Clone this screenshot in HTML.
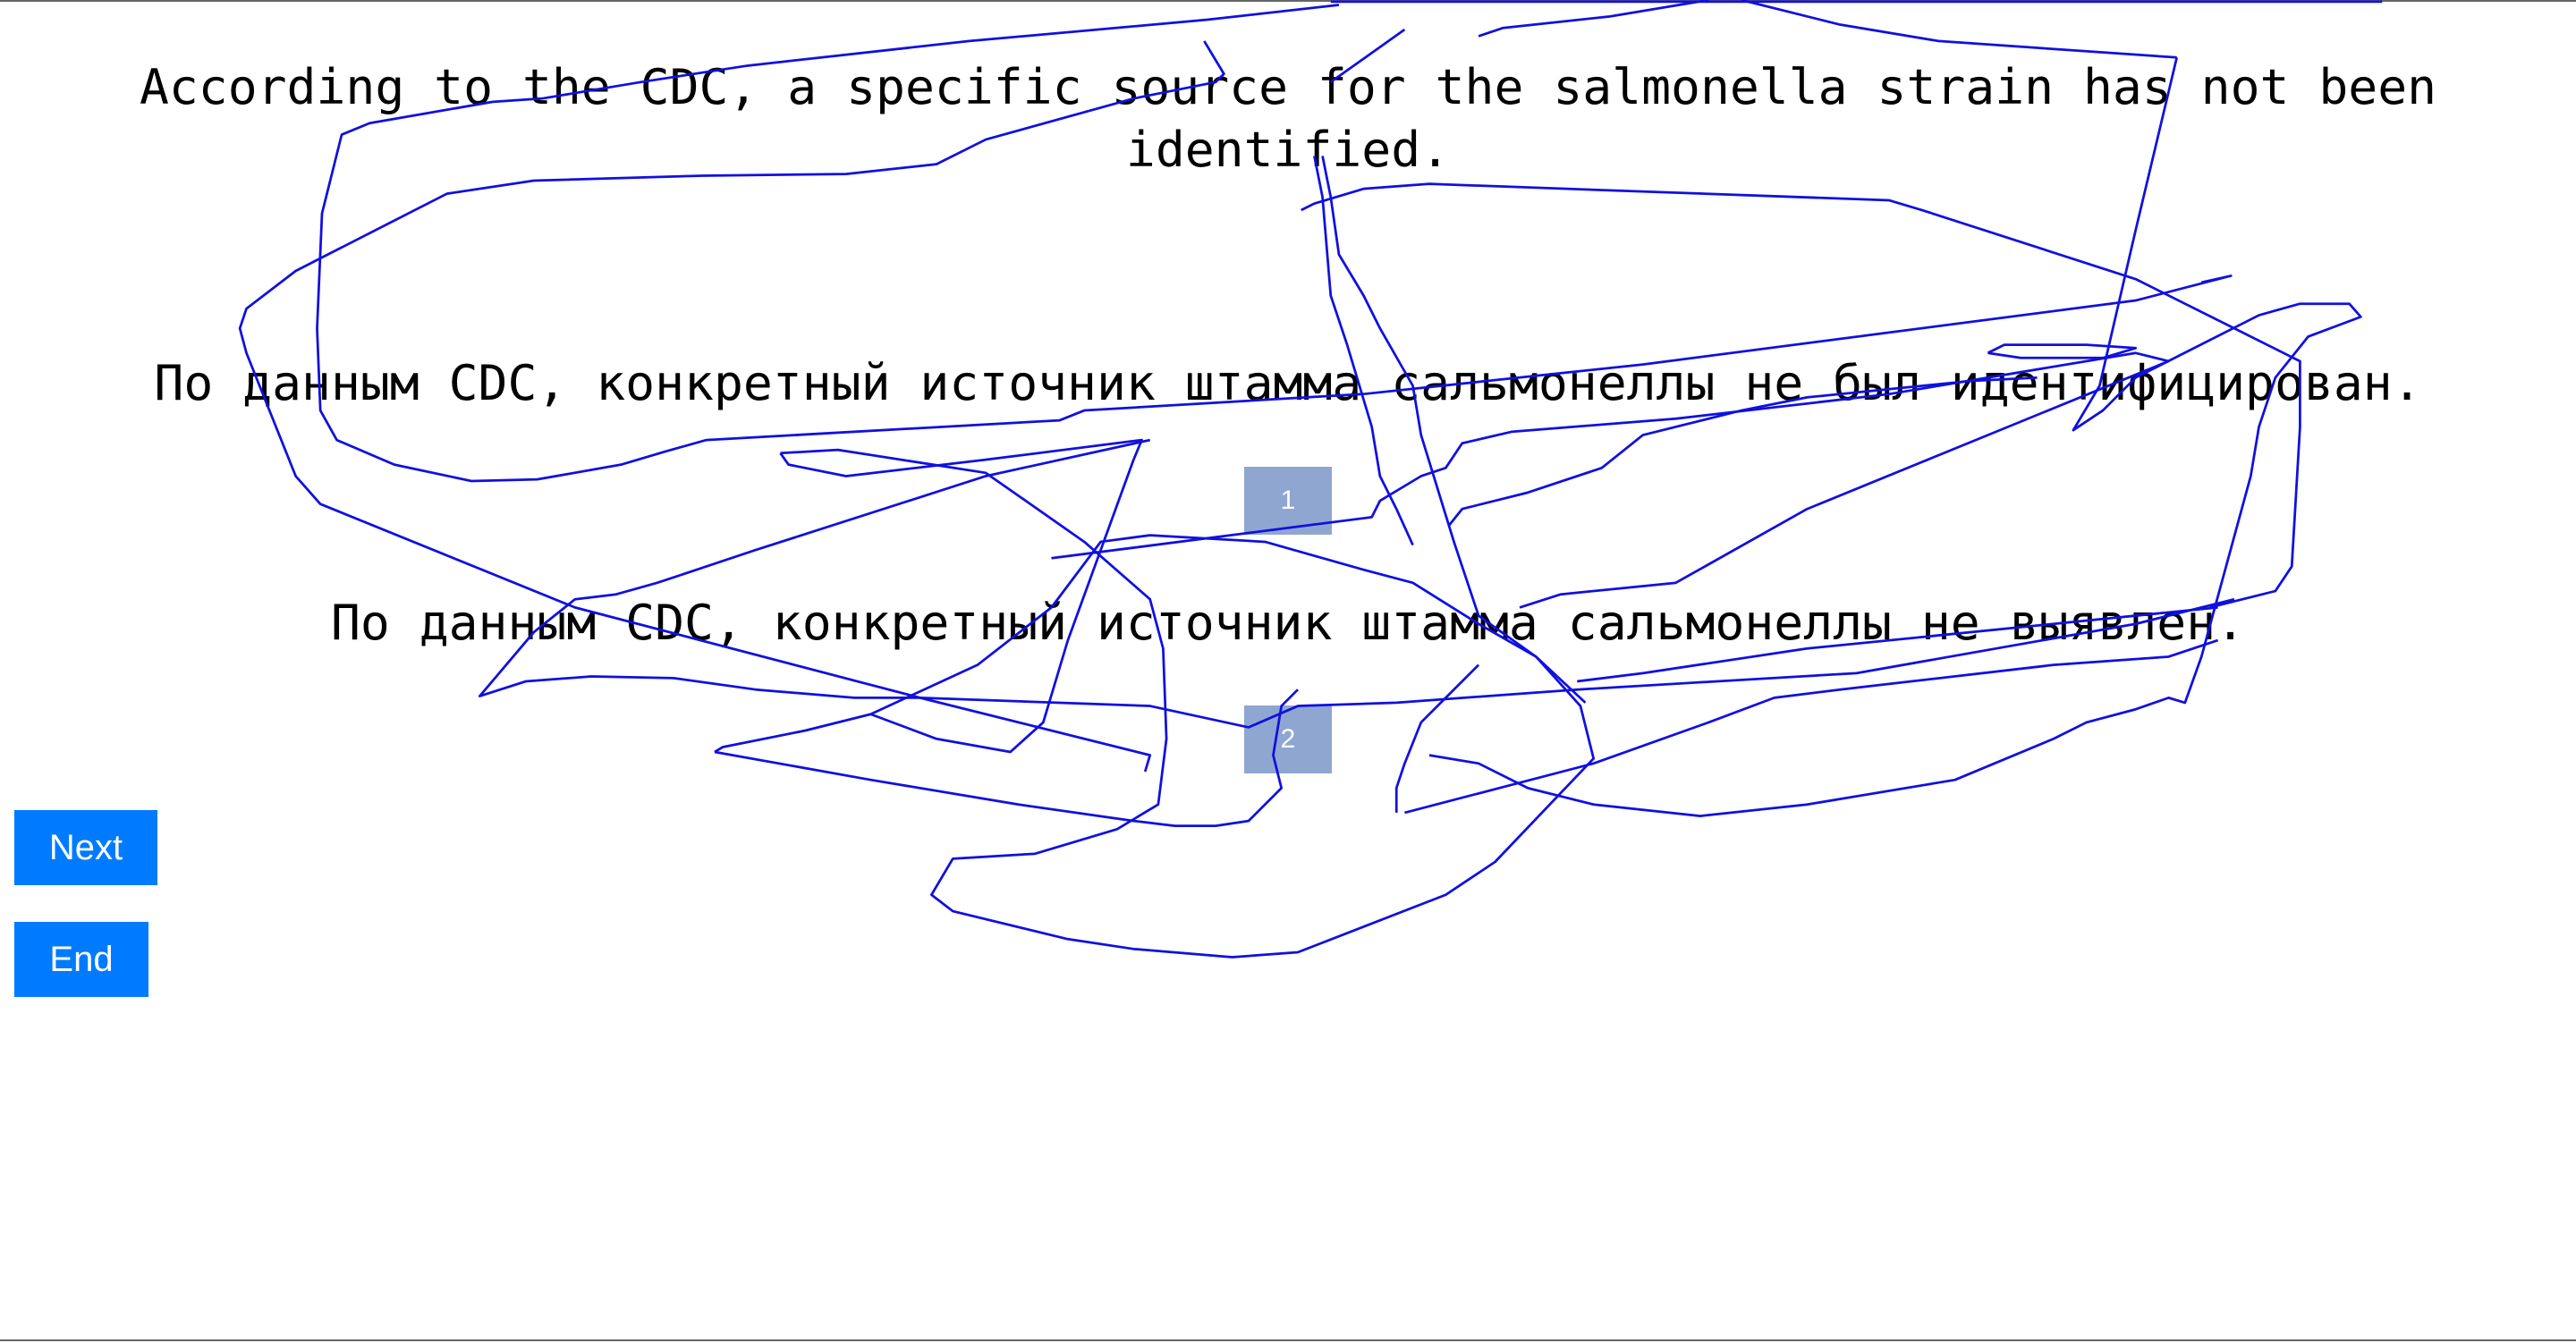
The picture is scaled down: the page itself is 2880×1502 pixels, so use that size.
<!DOCTYPE html>
<html><head><meta charset="utf-8"><style>
html,body{margin:0;padding:0;width:2880px;height:1502px;overflow:hidden;background:#fff;position:relative}
.t{position:absolute;left:0;width:2880px;text-align:center;font-family:"DejaVu Sans Mono","Liberation Mono",monospace;font-size:54.7px;line-height:70px;color:#000;white-space:pre}
.box{position:absolute;left:1391px;width:98px;height:76px;background:#8fa6d1;color:#fff;font-family:"Liberation Sans",sans-serif;font-size:30px;text-align:center;line-height:76px}
.btn{position:absolute;left:16px;height:84px;background:#007bff;color:#fff;font-family:"Liberation Sans",sans-serif;font-size:40px;text-align:center;line-height:84px}
</style></head><body>
<div style="position:absolute;left:0;top:0;width:2880px;height:2px;background:#666"></div>
<div style="position:absolute;left:0;top:1498px;width:2880px;height:2px;background:#666"></div>
<div class="t" style="top:62px">According to the CDC, a specific source for the salmonella strain has not been</div>
<div class="t" style="top:132px">identified.</div>
<div class="t" style="top:393px">По данным CDC, конкретный источник штамма сальмонеллы не был идентифицирован.</div>
<div class="box" style="top:522px">1</div>
<div class="t" style="top:661px">По данным CDC, конкретный источник штамма сальмонеллы не выявлен.</div>
<div class="box" style="top:789px">2</div>
<div class="btn" style="top:906px;width:160px">Next</div>
<div class="btn" style="top:1031px;width:150px">End</div>
<svg style="position:absolute;left:0;top:0" width="2880" height="1502" viewBox="0 0 1568 818" preserveAspectRatio="none">
<g fill="none" stroke="#1010e0" stroke-width="1.5" stroke-linejoin="round">
<line x1="810" y1="1" x2="1450" y2="1"/>
<polyline points="815,3 735,12 590,25 455,40 390,50 330,60 300,62 225,75 208,82 196,130 193,200 195,250 205,268 240,283 287,293 327,292 378,283 405,275 430,268 645,256 660,250 830,240 1000,222 1300,183 1358,168 1340,172"/>
<polyline points="733,25 745,45 740,50 690,60 600,85 570,100 515,106 428,107 325,110 272,118 180,165 150,188 146,200 150,215 180,290 195,307 350,370 560,425 700,460 697,470"/>
<polyline points="475,276 510,274 600,288 660,330 700,365 708,395 710,450 705,490 680,505 630,520 580,523 567,545 580,555 650,572 690,578 750,583 790,580 880,545 910,525 970,462 962,430 935,400 900,375 885,330 865,265 860,235 840,200 830,180 815,155 810,120 805,95"/>
<polyline points="475,276 480,283 515,290 600,280 695,268 690,280 650,390 635,440 615,458 570,450 530,435"/>
<polyline points="700,268 600,290 460,335 400,355 375,362 350,365 325,385 292,424 320,415 360,412 410,413 460,420 520,425 560,425 700,430 760,443 790,430 850,428 960,420 1130,410 1300,380 1360,365"/>
<polyline points="435,458 440,455 490,445 530,435 595,405 640,370 670,330 700,326 770,330 830,347 860,355 900,380 935,400 965,428"/>
<polyline points="640,340 835,315 840,305 865,290 880,285 890,270 920,263 1020,255 1150,240 1300,215 1320,220"/>
<polyline points="860,332 850,310 840,290 835,260 820,210 810,180 805,120 800,95"/>
<polyline points="792,128 800,124 830,115 870,112 1150,122 1170,128 1300,170 1400,220 1400,260 1395,345 1385,360 1345,370"/>
<polyline points="1325,35 1300,140 1278,235 1262,262 1280,250 1300,230 1375,192 1400,185 1430,185 1437,193 1405,205 1385,230 1375,260 1370,290 1355,345 1340,400 1330,428 1320,425 1300,432 1270,440 1250,450 1190,475 1100,490 1035,497 970,490 930,480 900,465 870,460"/>
<polyline points="1320,220 1100,310 1020,355 950,362 925,370"/>
<polyline points="1350,370 1100,395 1000,410 960,415"/>
<polyline points="850,495 850,480 855,465 865,440 880,425 900,405"/>
<polyline points="855,495 970,465 1040,440 1080,425 1120,420 1250,405 1320,400 1350,390"/>
<polyline points="790,420 780,430 775,460 780,480 760,500 740,503 715,503 690,500 620,490 530,475 435,458"/>
<polyline points="1210,215 1220,210 1270,210 1300,212 1280,218 1230,218 1210,215"/>
<polyline points="882,320 890,310 930,300 975,285 1000,265 1060,250 1100,242 1200,232 1240,230"/>
<polyline points="900,22 915,17 980,10 1040,0"/>
<polyline points="1060,0 1120,15 1180,25 1325,35"/>
<polyline points="855,18 810,50"/>
</g></svg>
</body></html>
